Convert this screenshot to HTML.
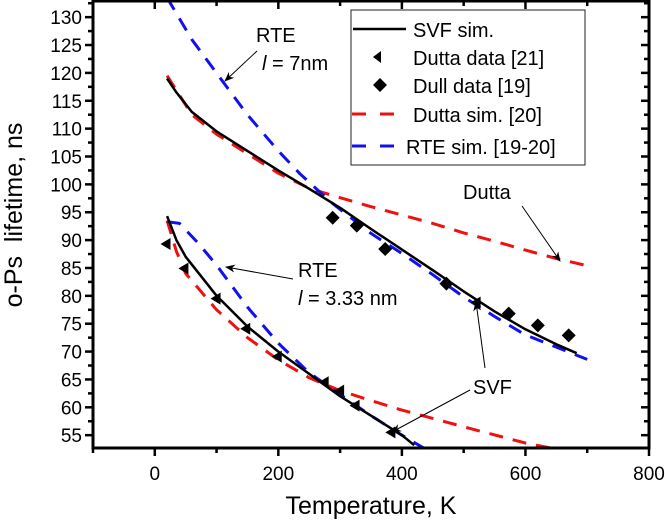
<!DOCTYPE html>
<html><head><meta charset="utf-8"><style>
html,body{margin:0;padding:0;background:#fff;}
svg{display:block;font-family:"Liberation Sans",Arial,sans-serif;}
</style></head><body>
<svg id="chart" width="665" height="524" viewBox="0 0 665 524" xmlns="http://www.w3.org/2000/svg"></svg>
<script>
const xTicks=[0,200,400,600,800];
const yTicks=[55,60,65,70,75,80,85,90,95,100,105,110,115,120,125,130];
const svfUpT=[20,35,60,100,150,200,250,300,350,400,450,500,550,600,650,683];
const svfUpV=[119,116.5,113,109.5,106,102.5,99.2,95.8,92,88.3,84.6,80.8,77.2,74,71.3,69.7];
const duttaUpT=[20,40,60,100,150,200,250,300,350,400,450,500,550,600,650,700];
const duttaUpV=[119.5,116,112.5,109,105.5,102,99.3,97.6,96,94.5,93,91.3,89.8,88.2,86.7,85.4];
const rteUpT=[20,60,113,150,200,235,283,350,400,450,500,550,600,650,700];
const rteUpV=[133.5,126,118,112.5,106,101.9,97,91.2,87.6,83.8,79.8,76.3,73,70.8,68.6];
const svfLoT=[20,35,50,100,150,200,250,300,350,400,420];
const svfLoV=[94.3,90,87,80,74.5,70,66,62,58.5,55,53.2];
const duttaLoT=[20,35,50,100,150,200,250,300,350,400,500,600,650];
const duttaLoV=[93.5,88,84,77.5,72.5,68.5,65.3,63,61.2,59.5,56.5,53.6,52.5];
const rteLoT=[20,40,70,100,150,200,250,300,350,400,440];
const rteLoV=[93.3,93,89.5,85.5,78,71.5,66.2,62.3,58.5,55,52.4];
const duttaDataT=[19,48,100,148,199,275,300,325,383,521];
const duttaDataV=[89.3,84.9,79.5,74.1,69.1,64.5,63,60.3,55.5,78.8];
const dullDataT=[288,327,373,472,573,620,670];
const dullDataV=[94,92.6,88.4,82.2,76.8,74.7,72.9];

const L=93,R=649,T=1,B=448,XMIN=-100,XMAX=800,YMIN=52.7,YMAX=132.9;
const sx=v=>L+(v-XMIN)/(XMAX-XMIN)*(R-L);
const sy=v=>B-(v-YMIN)/(YMAX-YMIN)*(B-T);
const NS="http://www.w3.org/2000/svg";
const svg=document.getElementById('chart');
function mk(tag,attrs,parent){const e=document.createElementNS(NS,tag);for(const k in attrs)e.setAttribute(k,attrs[k]);(parent||svg).appendChild(e);return e;}

const defs=mk('defs',{});
const clip=mk('clipPath',{id:'plotclip'},defs);
mk('rect',{x:L,y:T,width:R-L,height:B-T},clip);
const mkr=mk('marker',{id:'arr',markerWidth:10,markerHeight:8,refX:9,refY:4,orient:'auto',markerUnits:'userSpaceOnUse'},defs);
mk('path',{d:'M0,0 L10,4 L0,8 L3,4 Z',fill:'#000'},mkr);

const g=mk('g',{'clip-path':'url(#plotclip)'});
function series(ts,vs,stroke,dash,name){
  const p=mk('path',{d:ts.map((t,i)=>(i?'L':'M')+sx(t).toFixed(1)+','+sy(vs[i]).toFixed(1)).join(' '),fill:'none',stroke:stroke,'stroke-width':dash?3:2.5,'stroke-dasharray':dash||'none','stroke-linejoin':'round'},g);
  
  
}
series(duttaUpT,duttaUpV,'#f01010','14 10','dutta-sim-upper');
series(duttaLoT,duttaLoV,'#f01010','14 10','dutta-sim-lower');
series(rteUpT,rteUpV,'#1010f0','14 10','rte-sim-upper');
series(rteLoT,rteLoV,'#1010f0','14 10','rte-sim-lower');
series(svfUpT,svfUpV,'#000',null,'svf-sim-upper');
series(svfLoT,svfLoV,'#000',null,'svf-sim-lower');
duttaDataT.forEach((t,i)=>{const x=sx(t),y=sy(duttaDataV[i]);
  const m=mk('path',{d:`M${x-6},${y} L${x+4},${y-6} L${x+4},${y+6} Z`,fill:'#000'},g);
  
  });
dullDataT.forEach((t,i)=>{const x=sx(t),y=sy(dullDataV[i]);
  const m=mk('path',{d:`M${x},${y-7} L${x+7},${y} L${x},${y+7} L${x-7},${y} Z`,fill:'#000'},g);
  
  });

const fr=mk('rect',{x:L,y:T,width:R-L,height:B-T,fill:'none',stroke:'#000','stroke-width':3});


for(let v=-100;v<=800;v+=100){const x=sx(v),maj=(v%200===0);
  mk('line',{x1:x,y1:B,x2:x,y2:B+(maj?8:5),stroke:'#000','stroke-width':2.5});
  mk('line',{x1:x,y1:T,x2:x,y2:T+(maj?8:5),stroke:'#000','stroke-width':2.5});}
xTicks.forEach(v=>{const t=mk('text',{x:sx(v),y:480,'font-size':19,'text-anchor':'middle'});t.textContent=v;
  
  });
for(let v=55;v<=132.5;v+=2.5){const y=sy(v),maj=(v%5===0);
  mk('line',{x1:L,y1:y,x2:L-(maj?8:5),y2:y,stroke:'#000','stroke-width':2.5});
  mk('line',{x1:R,y1:y,x2:R-(maj?8:5),y2:y,stroke:'#000','stroke-width':2.5});}
yTicks.forEach(v=>{const t=mk('text',{x:82,y:sy(v)+7,'font-size':19,'text-anchor':'end'});t.textContent=v;
  
  });
const xt=mk('text',{x:371,y:514,'font-size':25,'text-anchor':'middle'});xt.textContent='Temperature, K';


const yt=mk('text',{x:0,y:0,'font-size':25,'text-anchor':'middle',style:'white-space:pre',transform:'translate(22,215) rotate(-90)'});yt.textContent='o-Ps  lifetime, ns';



function ann(x,y,txt,name,ital){const t=mk('text',{x:x,y:y,'font-size':20});
  if(ital){const a=mk('tspan',{'font-style':'italic'},t);a.textContent='l';const b=mk('tspan',{},t);b.textContent=txt;}else t.textContent=txt;
  
  }
function arrow(x1,y1,x2,y2,name){const l=mk('line',{x1:x1,y1:y1,x2:x2,y2:y2,stroke:'#000','stroke-width':1,'marker-end':'url(#arr)'});
  
  }
ann(256,42,'RTE','rte-7nm-label');ann(262,70,' = 7nm','rte-7nm-length',true);
arrow(257,51,225,81,'rte-7nm-arrow');
ann(463,199,'Dutta','dutta-label');arrow(522,206,560,261,'dutta-arrow');
ann(298,277,'RTE','rte-333-label');ann(298,305,' = 3.33 nm','rte-333-length',true);
arrow(293,279,226,267,'rte-333-arrow');
ann(473,394,'SVF','svf-label');
arrow(485,368,476,302,'svf-arrow-upper');
arrow(470,390,392,432,'svf-arrow-lower');

const lg=mk('g',{});
mk('rect',{x:351,y:10,width:234,height:155,fill:'#fff',stroke:'#222','stroke-width':1},lg);
const rows=[['SVF sim.',32,'line'],['Dutta data [21]',60,'tri'],['Dull data [19]',88,'dia'],['Dutta sim. [20]',117,'red'],['RTE sim. [19-20]',149,'blue']];
rows.forEach(r=>{const y=r[1];
  if(r[2]==='line')mk('line',{x1:353,y1:y-3,x2:406,y2:y-3,stroke:'#000','stroke-width':2.5},lg);
  if(r[2]==='tri')mk('path',{d:`M373,${y-3} L381,${y-9} L381,${y+3} Z`,fill:'#000'},lg);
  if(r[2]==='dia')mk('path',{d:`M380,${y-10} L387,${y-3} L380,${y+4} L373,${y-3} Z`,fill:'#000'},lg);
  if(r[2]==='red')mk('line',{x1:352,y1:y-3,x2:400,y2:y-3,stroke:'#f01010','stroke-width':3,'stroke-dasharray':'14 14'},lg);
  if(r[2]==='blue')mk('line',{x1:352,y1:y-3,x2:400,y2:y-3,stroke:'#1010f0','stroke-width':3,'stroke-dasharray':'14 14'},lg);
  const t=mk('text',{x:r[2]==='blue'?406:413,y:y+5,'font-size':20},lg);t.textContent=r[0];
  
  });
</script>
</body></html>
